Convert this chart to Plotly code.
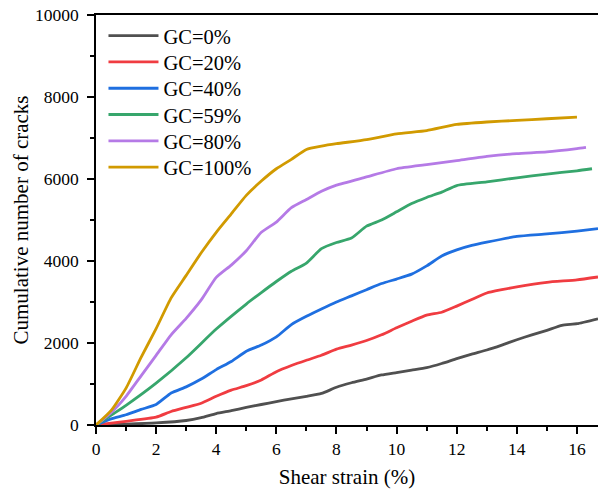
import plotly.graph_objects as go

# ---- data ----
names = ["GC=0%", "GC=20%", "GC=40%", "GC=59%", "GC=80%", "GC=100%"]
colors = ["#505050", "#f03c41", "#1f6fe0", "#37a66c", "#b57ae6", "#d19a00"]

x0 = [0, 1, 2, 3, 3.5, 4, 4.5, 5, 5.5, 6, 6.5, 7, 7.5, 8, 8.5, 9, 9.5, 10, 10.5, 11,
      11.5, 12, 12.5, 13, 13.5, 14, 14.5, 15, 15.5, 16, 16.7]
y0 = [0, 20, 50, 110, 180, 280, 350, 430, 500, 570, 640, 700, 770, 920, 1030, 1120, 1220,
      1280, 1340, 1400, 1500, 1620, 1730, 1830, 1950, 2080, 2200, 2310, 2430, 2470, 2590]

x20 = [0, 1, 2, 2.5, 3, 3.5, 4, 4.5, 5, 5.5, 6, 6.5, 7, 7.5, 8, 8.5, 9, 9.5, 10, 10.5, 11,
       11.5, 12, 12.5, 13, 13.5, 14, 15, 16, 16.7]
y20 = [0, 90, 190, 330, 430, 530, 700, 850, 960, 1100, 1300, 1450, 1580, 1700, 1850, 1950,
       2060, 2200, 2370, 2530, 2680, 2750, 2900, 3060, 3220, 3300, 3370, 3480, 3540, 3610]

x40 = [0, 0.5, 1, 1.5, 2, 2.5, 3, 3.5, 4, 4.5, 5, 5.5, 6, 6.5, 7, 7.5, 8, 8.5, 9, 9.5, 10,
       10.5, 11, 11.5, 12, 12.5, 13, 14, 15, 16, 16.7]
y40 = [0, 150, 250, 380, 500, 780, 930, 1120, 1350, 1550, 1800, 1950, 2150, 2450, 2650,
       2830, 3000, 3150, 3300, 3450, 3560, 3680, 3880, 4120, 4270, 4380, 4460, 4600, 4660,
       4730, 4790]

x59 = [0, 1, 2, 3, 4, 5, 5.5, 6, 6.5, 7, 7.5, 8, 8.5, 9, 9.5, 10, 10.5, 11, 11.5, 12, 13,
       14, 15, 16, 16.5]
y59 = [0, 480, 1020, 1640, 2340, 2950, 3230, 3500, 3750, 3950, 4300, 4450, 4560, 4850, 5000,
       5200, 5400, 5550, 5680, 5840, 5930, 6030, 6120, 6200, 6250]

x80 = [0, 0.5, 1, 1.5, 2, 2.5, 3, 3.5, 4, 4.5, 5, 5.5, 6, 6.5, 7, 7.5, 8, 9, 10, 11, 12, 13,
       14, 15, 16, 16.3]
y80 = [0, 300, 700, 1200, 1700, 2200, 2600, 3050, 3600, 3900, 4250, 4700, 4950, 5300, 5500,
       5700, 5850, 6050, 6250, 6350, 6450, 6550, 6620, 6660, 6740, 6770]

x100 = [0, 0.5, 1, 1.5, 2, 2.5, 3, 3.5, 4, 4.5, 5, 5.5, 6, 6.5, 7, 7.5, 8, 9, 10, 11, 12, 13,
        14, 15, 16]
y100 = [0, 350, 900, 1650, 2350, 3100, 3650, 4200, 4700, 5150, 5600, 5950, 6250, 6480, 6720,
        6800, 6860, 6960, 7100, 7180, 7330, 7390, 7430, 7470, 7510]

xs = [x0, x20, x40, x59, x80, x100]
ys = [y0, y20, y40, y59, y80, y100]

FONT = "Liberation Serif"

# plot-area geometry (pixels) used to place legend entries in paper coordinates
PLOT_TOP, PLOT_H = 15, 410
ENTRY_CENTERS = [36.7 + 26.3 * i for i in range(6)]
LEG_OFFSET = 20.9  # distance from legend box top to entry centre

fig = go.Figure()
layout_legends = {}
for i, (n, c, xv, yv) in enumerate(zip(names, colors, xs, ys)):
    key = "legend" if i == 0 else f"legend{i + 1}"
    fig.add_trace(go.Scatter(x=xv, y=yv, mode="lines", name=n, legend=key,
                             line=dict(color=c, width=2.8, shape="spline", smoothing=0.5)))
    top_px = ENTRY_CENTERS[i] - LEG_OFFSET
    layout_legends[key] = dict(
        x=0.0149, y=1 - (top_px - PLOT_TOP) / PLOT_H, xanchor="left", yanchor="top",
        font=dict(family=FONT, size=20.5, color="black"),
        bgcolor="rgba(0,0,0,0)", itemwidth=50, borderwidth=0)

fig.update_layout(
    width=598, height=492,
    margin=dict(l=96, r=0, t=15, b=67),
    paper_bgcolor="white", plot_bgcolor="white",
    font=dict(family=FONT, color="black", size=17.5),
    showlegend=True,
    **layout_legends,
)
fig.update_xaxes(
    range=[0, 16.7], dtick=2, tick0=0, showgrid=False, zeroline=False,
    showline=True, linecolor="black", linewidth=1.5, mirror=True,
    ticks="outside", ticklen=7, tickwidth=1.5, tickcolor="black",
    minor=dict(dtick=1, ticks="outside", ticklen=4, tickwidth=1.5, tickcolor="black"),
    title=dict(text="Shear strain (%)", font=dict(family=FONT, size=21), standoff=12),
    tickfont=dict(family=FONT, size=17.5),
)
fig.update_yaxes(
    range=[0, 10000], dtick=2000, tick0=0, showgrid=False, zeroline=False,
    showline=True, linecolor="black", linewidth=1.5, mirror=False,
    ticks="outside", ticklen=7, tickwidth=1.5, tickcolor="black",
    minor=dict(dtick=1000, ticks="outside", ticklen=4, tickwidth=1.5, tickcolor="black"),
    tickformat="d", exponentformat="none", ticklabelstandoff=5,
    title=dict(text="Cumulative number of cracks", font=dict(family=FONT, size=21), standoff=1),
    tickfont=dict(family=FONT, size=17.5),
)

fig.write_html("out.html")
